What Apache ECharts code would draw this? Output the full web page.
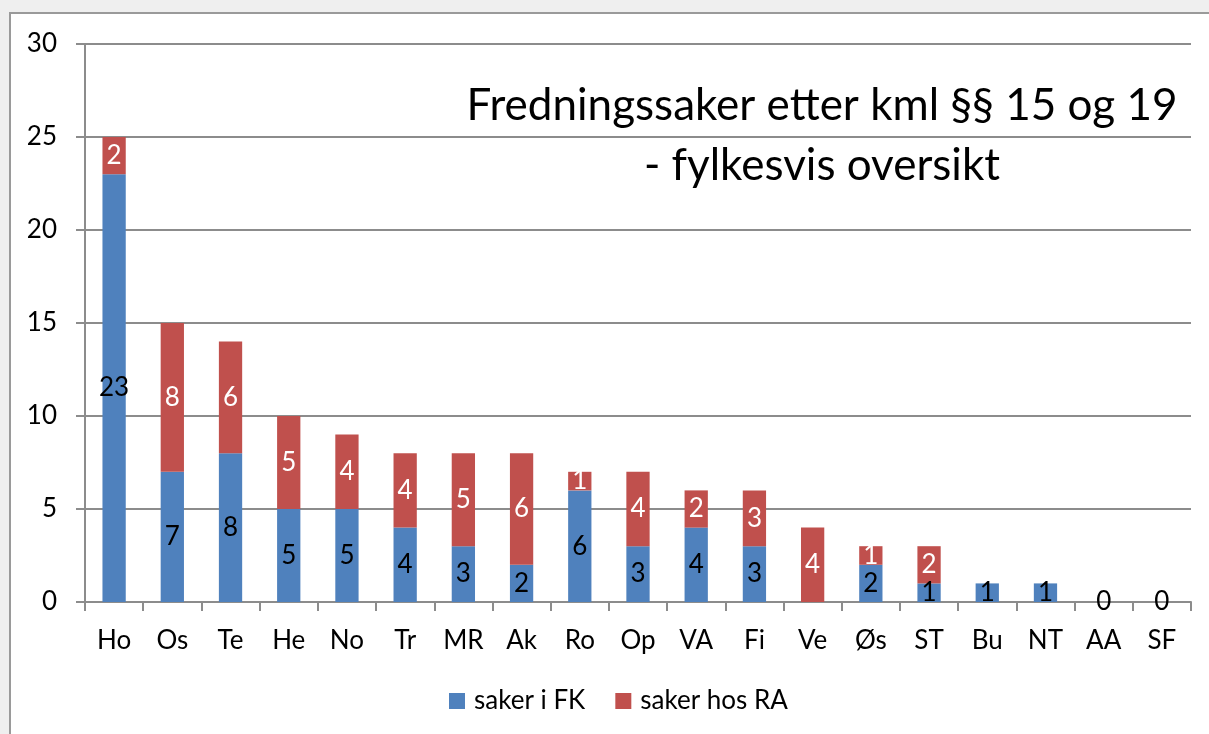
<!DOCTYPE html>
<html>
<head>
<meta charset="utf-8">
<script src="https://cdn.jsdelivr.net/npm/echarts@6/dist/echarts.min.js"></script>
<style>
  html, body { margin: 0; padding: 0; background: #efefef; }
  #main { width: 1209px; height: 734px; }
</style>
</head>
<body>
<div id="main"></div>
<script>
var categories = ['Ho', 'Os', 'Te', 'He', 'No', 'Tr', 'MR', 'Ak', 'Ro', 'Op', 'VA', 'Fi', 'Ve', 'Øs', 'ST', 'Bu', 'NT', 'AA', 'SF'];
var sakerFK = [23, 7, 8, 5, 5, 4, 3, 2, 6, 3, 4, 3, 0, 2, 1, 1, 1, 0, 0];
var sakerRA = [2, 8, 6, 5, 4, 4, 5, 6, 1, 4, 2, 3, 4, 1, 2, 0, 0, 0, 0];
var yTicks = [0, 5, 10, 15, 20, 25, 30];

var font = 'Lato, "Open Sans", sans-serif';

// FK label hidden when only RA has cases (Ve); zero shown when county has none
var fkData = sakerFK.map(function (v, i) {
  if (v === 0 && sakerRA[i] > 0) return { value: v, label: { show: false } };
  return v;
});
var raData = sakerRA.map(function (v) {
  if (v === 0) return { value: v, label: { show: false } };
  return v;
});

var chart = echarts.init(document.getElementById('main'));

chart.setOption({
  backgroundColor: '#efefef',
  textStyle: { fontFamily: font },
  graphic: [{
    type: 'rect',
    z: -10,
    shape: { x: 10, y: 13, width: 1210, height: 730 },
    style: { fill: '#ffffff', stroke: '#9a9a9a', lineWidth: 2 }
  }],
  title: {
    text: 'Fredningssaker etter kml §§ 15 og 19\n- fylkesvis oversikt',
    left: 817,
    top: 71,
    textAlign: 'center',
    textStyle: {
      fontFamily: font,
      fontSize: 44,
      fontWeight: 'normal',
      color: '#000',
      lineHeight: 60
    }
  },
  legend: {
    data: ['saker i FK', 'saker hos RA'],
    left: 444,
    top: 683,
    itemWidth: 16,
    itemHeight: 16,
    itemGap: 30,
    icon: 'rect',
    textStyle: { fontFamily: font, fontSize: 26, color: '#000', padding: [0, 0, 0, 4] }
  },
  grid: { left: 85, right: 18, top: 44, bottom: 132 },
  xAxis: {
    type: 'category',
    data: categories,
    axisLine: { lineStyle: { color: '#8c8c8c', width: 2 } },
    axisTick: { show: true, length: 9, lineStyle: { color: '#8c8c8c', width: 2 } },
    axisLabel: { fontFamily: font, fontSize: 26, color: '#000', margin: 26 }
  },
  yAxis: {
    type: 'value',
    min: yTicks[0],
    max: yTicks[yTicks.length - 1],
    interval: 5,
    axisLine: { show: true, lineStyle: { color: '#8c8c8c', width: 2 } },
    axisTick: { show: true, length: 9, lineStyle: { color: '#8c8c8c', width: 2 } },
    splitLine: { lineStyle: { color: '#8c8c8c', width: 2 } },
    axisLabel: { fontFamily: font, fontSize: 26, color: '#000', margin: 28 }
  },
  series: [{
    name: 'saker i FK',
    type: 'bar',
    stack: 'total',
    barWidth: '40%',
    itemStyle: { color: '#4f81bd' },
    label: {
      show: true,
      position: 'inside',
      fontFamily: font,
      fontSize: 26,
      color: '#000'
    },
    data: fkData
  }, {
    name: 'saker hos RA',
    type: 'bar',
    stack: 'total',
    barWidth: '40%',
    itemStyle: { color: '#c0504d' },
    label: {
      show: true,
      position: 'inside',
      fontFamily: font,
      fontSize: 26,
      color: '#fff'
    },
    data: raData
  }]
});
</script>
</body>
</html>
